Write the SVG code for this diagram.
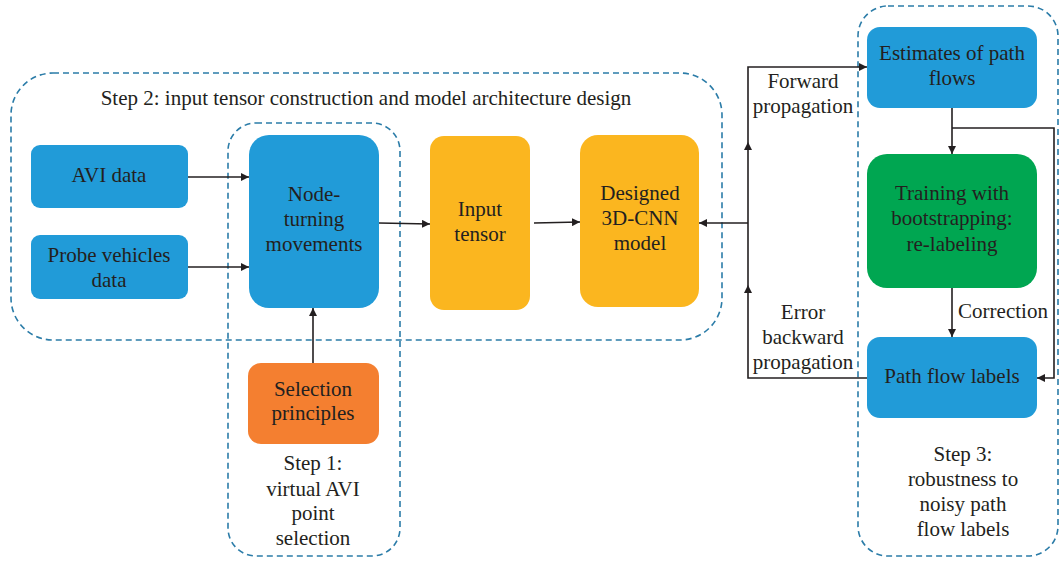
<svg xmlns="http://www.w3.org/2000/svg" width="1060" height="563" viewBox="0 0 1060 563">
<defs>
<style>
.grp{fill:none;stroke:#2b7ca8;stroke-width:1.6;stroke-dasharray:6,4}
.blue{fill:#219bd8}
.yel{fill:#fbb61f}
.grn{fill:#00a651}
.org{fill:#f47f30}
text{font-family:'Liberation Serif','DejaVu Serif',serif;font-size:21px;fill:#231f20;text-anchor:middle}
.ln{fill:none;stroke:#231f20;stroke-width:1.6}
</style>
<marker id="ah" viewBox="0 0 10 10" refX="10" refY="5" markerWidth="8" markerHeight="8" markerUnits="userSpaceOnUse" orient="auto">
<path d="M0,0 L10,5 L0,10 Z" fill="#231f20"/>
</marker>
</defs>
<rect width="1060" height="563" fill="#ffffff"/>

<g id="step2-group">
<rect class="grp" x="11" y="73" width="711" height="267" rx="42"/>
<text x="366" y="105">Step 2: input tensor construction and model architecture design</text>
</g>
<g id="step1-group">
<rect class="grp" x="228" y="123" width="172" height="433" rx="28"/>
<text x="313" y="470">Step 1:</text>
<text x="313" y="496">virtual AVI</text>
<text x="313" y="520">point</text>
<text x="313" y="545">selection</text>
</g>
<g id="step3-group">
<rect class="grp" x="858" y="6" width="200" height="550" rx="30"/>
<text x="963" y="461">Step 3:</text>
<text x="963" y="486">robustness to</text>
<text x="963" y="511">noisy path</text>
<text x="963" y="536">flow labels</text>
</g>

<g id="connectors">
<line class="ln" x1="188" y1="177" x2="249" y2="177" marker-end="url(#ah)"/>
<line class="ln" x1="188" y1="267" x2="249" y2="267" marker-end="url(#ah)"/>
<line class="ln" x1="379" y1="223" x2="430" y2="224" marker-end="url(#ah)"/>
<line class="ln" x1="534" y1="223" x2="580" y2="222" marker-end="url(#ah)"/>
<line class="ln" x1="313" y1="363" x2="313" y2="308" marker-end="url(#ah)"/>
<line class="ln" x1="748" y1="223" x2="699" y2="223" marker-end="url(#ah)"/>
<polyline class="ln" points="867,378 748,378 748,285" marker-end="url(#ah)"/>
<polyline class="ln" points="748,285 748,142" marker-end="url(#ah)"/>
<polyline class="ln" points="748,142 748,67 867,67" marker-end="url(#ah)"/>
<line class="ln" x1="952" y1="108" x2="952" y2="154" marker-end="url(#ah)"/>
<polyline class="ln" points="952,128 1054,128 1054,378 1037,378" marker-end="url(#ah)"/>
<line class="ln" x1="952" y1="288" x2="952" y2="337" marker-end="url(#ah)"/>
<text x="803" y="88">Forward</text>
<text x="803" y="113">propagation</text>
<text x="803" y="319">Error</text>
<text x="803" y="344">backward</text>
<text x="803" y="369">propagation</text>
<text x="1003" y="318">Correction</text>
</g>

<g id="avi-data">
<rect class="blue" x="31" y="145" width="157" height="63" rx="9"/>
<text x="109" y="182">AVI data</text>
</g>
<g id="probe-data">
<rect class="blue" x="31" y="235" width="157" height="64" rx="9"/>
<text x="109" y="262">Probe vehicles</text>
<text x="109" y="287">data</text>
</g>
<g id="node-turning">
<rect class="blue" x="249" y="135" width="130" height="173" rx="20"/>
<text x="314" y="201">Node-</text>
<text x="314" y="226">turning</text>
<text x="314" y="251">movements</text>
</g>
<g id="input-tensor">
<rect class="yel" x="430" y="136" width="100" height="174" rx="14"/>
<text x="480" y="216">Input</text>
<text x="480" y="241">tensor</text>
</g>
<g id="cnn-model">
<rect class="yel" x="580" y="135" width="119" height="172" rx="18"/>
<text x="640" y="200">Designed</text>
<text x="640" y="225">3D-CNN</text>
<text x="640" y="250">model</text>
</g>
<g id="selection">
<rect class="org" x="248" y="363" width="131" height="81" rx="13"/>
<text x="313" y="396">Selection</text>
<text x="313" y="420">principles</text>
</g>
<g id="estimates">
<rect class="blue" x="867" y="27" width="170" height="81" rx="13"/>
<text x="952" y="60">Estimates of path</text>
<text x="952" y="85">flows</text>
</g>
<g id="training">
<rect class="grn" x="867" y="154" width="170" height="134" rx="20"/>
<text x="952" y="200">Training with</text>
<text x="952" y="225">bootstrapping:</text>
<text x="952" y="251">re-labeling</text>
</g>
<g id="path-labels">
<rect class="blue" x="867" y="337" width="170" height="81" rx="13"/>
<text x="952" y="383">Path flow labels</text>
</g>
</svg>
